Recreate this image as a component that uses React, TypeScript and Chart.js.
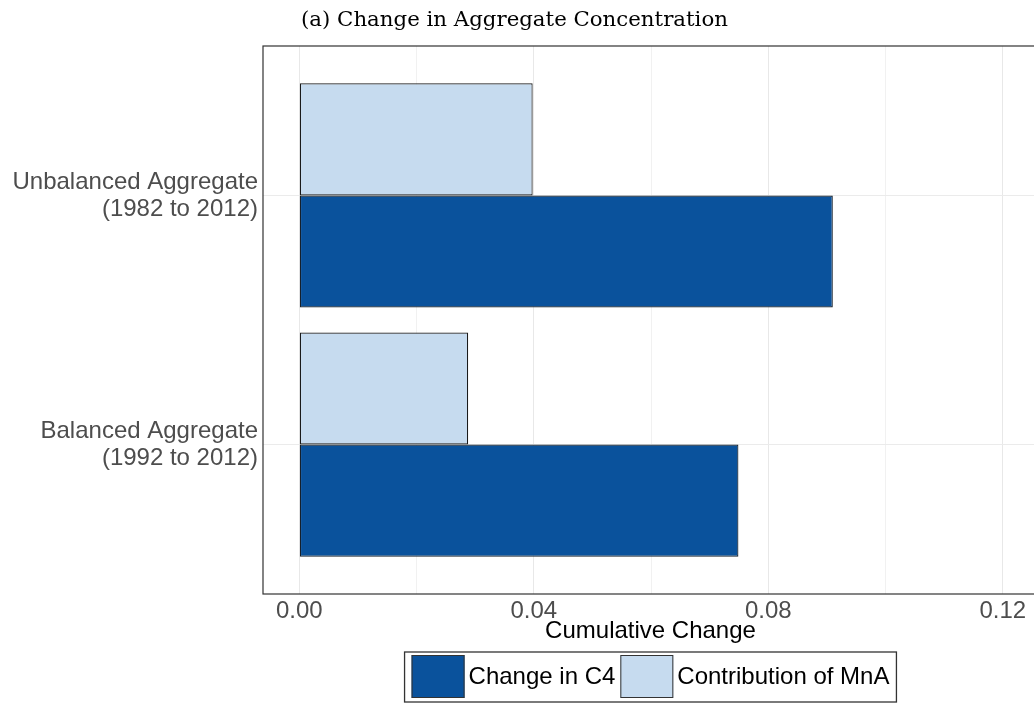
import { useEffect, useRef } from 'react';
import { Chart, registerables } from 'chart.js';

Chart.register(...registerables);

// ---- data ----
const categoryLabels: string[][] = [
  ['Unbalanced Aggregate', '(1982 to 2012)'],
  ['Balanced Aggregate', '(1992 to 2012)'],
];
const categoryPositions = [1, 2];
const changeInC4 = [0.091, 0.0749];
const contributionOfMnA = [0.0398, 0.0288];
const xMajorTicks = [0, 0.04, 0.08, 0.12];
const xMinorTicks = [0.02, 0.06, 0.1];
const seriesNames = ['Contribution of MnA', 'Change in C4'];
const legendOrder = [1, 0];
const chartTitle = '(a) Change in Aggregate Concentration';
const xAxisTitle = 'Cumulative Change';

const SANS = '"Liberation Sans", Arial, Helvetica, sans-serif';
const DARK = '#0a529c';
const LIGHT = '#c6dbef';

const isMajor = (v: number) => xMajorTicks.some((t) => Math.abs(t - v) < 1e-9);

const panelBorder = {
  id: 'panelBorder',
  afterDraw(chart: any) {
    const { ctx, chartArea: ca } = chart;
    ctx.save();
    ctx.strokeStyle = '#333333';
    ctx.lineWidth = 1.2;
    ctx.strokeRect(ca.left, ca.top, ca.right - ca.left, ca.bottom - ca.top);
    ctx.restore();
  },
};

const titlePlugin = {
  id: 'serifTitle',
  afterDraw(chart: any) {
    const { ctx } = chart;
    ctx.save();
    ctx.font = '21.3px "DejaVu Serif", "Liberation Serif", serif';
    ctx.fillStyle = '#000000';
    ctx.textAlign = 'left';
    ctx.textBaseline = 'alphabetic';
    ctx.fillText(chartTitle, 301, 26);
    ctx.restore();
  },
};

const boxLegend = {
  id: 'boxLegend',
  afterDraw(chart: any) {
    const { ctx, chartArea: ca } = chart;
    ctx.save();
    ctx.font = `24px ${SANS}`;
    const keyW = 53;
    const keyH = 43;
    const gapKeyText = 4;
    const gapItem = 5;
    const padX = 7;
    const dsets = chart.data.datasets;
    const widths = legendOrder.map((i) => ctx.measureText(dsets[i].label).width);
    const total =
      padX * 2 +
      widths.reduce((s: number, w: number) => s + keyW + gapKeyText + w, 0) +
      gapItem * (legendOrder.length - 1);
    const left = (ca.left + ca.right) / 2 - total / 2;
    const top = chart.height - 52;
    const h = 50;
    ctx.strokeStyle = '#333333';
    ctx.lineWidth = 1.3;
    ctx.strokeRect(left, top, total, h);
    let x = left + padX;
    legendOrder.forEach((i, k) => {
      const ds = dsets[i];
      ctx.fillStyle = ds.backgroundColor;
      ctx.fillRect(x, top + 3, keyW, keyH);
      ctx.lineWidth = 1;
      ctx.strokeStyle = '#333333';
      ctx.strokeRect(x + 0.5, top + 3.5, keyW - 1, keyH - 1);
      x += keyW + gapKeyText;
      ctx.fillStyle = '#000000';
      ctx.textBaseline = 'middle';
      ctx.textAlign = 'left';
      ctx.fillText(ds.label, x, top + 25.5);
      x += widths[k] + gapItem;
    });
    ctx.restore();
  },
};

export default function App() {
  const ref = useRef<HTMLCanvasElement | null>(null);

  useEffect(() => {
    if (!ref.current) return;
    const chart = new Chart(ref.current, {
      type: 'bar',
      data: {
        datasets: [
          {
            label: seriesNames[0],
            data: categoryPositions.map((p, i) => ({ x: contributionOfMnA[i], y: p })),
            backgroundColor: LIGHT,
            borderColor: '#1a1a1a',
            borderWidth: 1.2,
            borderSkipped: false,
          },
          {
            label: seriesNames[1],
            data: categoryPositions.map((p, i) => ({ x: changeInC4[i], y: p })),
            backgroundColor: DARK,
            borderColor: '#16202b',
            borderWidth: 1.2,
            borderSkipped: false,
          },
        ],
      } as any,
      options: {
        animation: false,
        responsive: false,
        indexAxis: 'y',
        categoryPercentage: 0.9,
        barPercentage: 1.0,
        layout: { padding: { top: 46, left: 0, right: 2, bottom: 0 } },
        plugins: {
          legend: { display: false },
          tooltip: { enabled: false },
          title: { display: false },
        },
        scales: {
          x: {
            type: 'linear',
            min: -0.0062,
            max: 0.126,
            offset: false,
            afterBuildTicks: (s: any) => {
              s.ticks = [...xMajorTicks, ...xMinorTicks]
                .sort((a, b) => a - b)
                .map((v) => ({ value: v }));
            },
            afterFit: (s: any) => {
              s.height = 110;
            },
            border: { display: false },
            grid: {
              offset: false,
              drawTicks: false,
              color: (c: any) => (c.tick && isMajor(c.tick.value) ? '#e8e8e8' : '#f1f1f1'),
              lineWidth: 1,
            },
            ticks: {
              autoSkip: false,
              maxRotation: 0,
              padding: 3,
              color: '#4d4d4d',
              font: { family: SANS, size: 24 },
              callback: (v: any) => (isMajor(Number(v)) ? Number(v).toFixed(2) : ''),
            },
            title: {
              display: true,
              text: xAxisTitle,
              color: '#000000',
              font: { family: SANS, size: 24, lineHeight: 1.2 },
              padding: { top: 0, bottom: 58 },
            },
          },
          y: {
            type: 'linear',
            min: 0.4,
            max: 2.6,
            reverse: true,
            offset: false,
            afterBuildTicks: (s: any) => {
              s.ticks = categoryPositions.map((v) => ({ value: v }));
            },
            afterFit: (s: any) => {
              s.width = 263;
            },
            border: { display: false },
            grid: { offset: false, drawTicks: false, color: '#ebebeb', lineWidth: 1 },
            ticks: {
              padding: 5,
              color: '#4d4d4d',
              font: { family: SANS, size: 24, lineHeight: 1.12 },
              callback: (v: any) => {
                const idx = categoryPositions.indexOf(Number(v));
                return idx >= 0 ? categoryLabels[idx] : '';
              },
            },
          },
        },
      } as any,
      plugins: [panelBorder, titlePlugin, boxLegend],
    });
    return () => chart.destroy();
  }, []);

  return (
    <div
      style={{
        position: 'fixed',
        left: 0,
        top: 0,
        width: 1034,
        height: 704,
        overflow: 'hidden',
        background: '#ffffff',
      }}
    >
      <canvas ref={ref} width={1040} height={704} style={{ display: 'block' }} />
    </div>
  );
}
